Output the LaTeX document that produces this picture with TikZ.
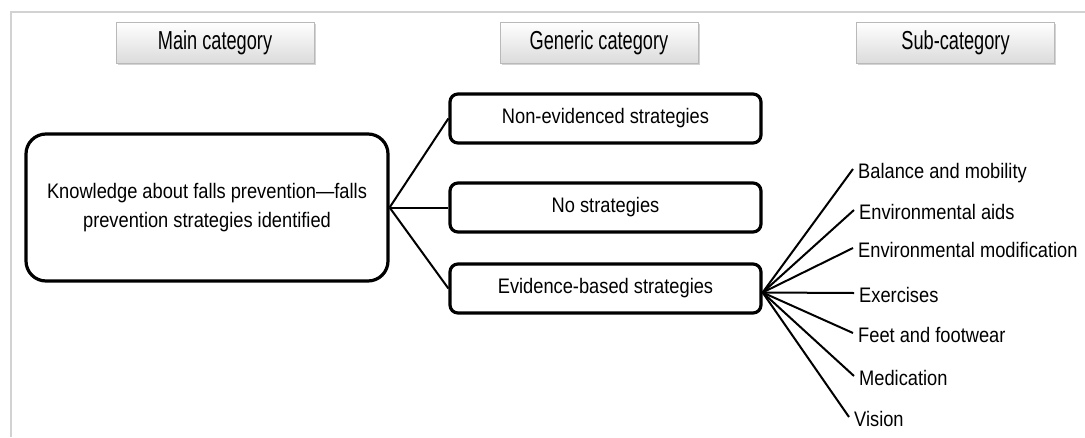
\documentclass[tikz,border=0pt]{standalone}
\usepackage{fontspec}
\setmainfont{Liberation Sans}[FakeStretch=0.87]
\newfontfamily\hdrfont{Liberation Sans}[FakeStretch=0.70]
\usetikzlibrary{shadows}
\tikzset{
  hdrbox/.style={draw=gray!55, line width=0.6pt, top color=white, bottom color=gray!28,
    minimum width=198pt, minimum height=41pt, inner sep=0pt,
    drop shadow={shadow xshift=1.5pt, shadow yshift=-2pt, opacity=0.35, fill=gray},
    font=\hdrfont\fontsize{26}{30}\selectfont},
  catbox/.style={draw=black, line width=3.2pt, rounded corners=8pt,
    minimum width=311pt, minimum height=49pt, inner sep=0pt,
    font=\fontsize{21}{29}\selectfont},
  mainbox/.style={draw=black, line width=3.2pt, rounded corners=20pt,
    minimum width=362pt, minimum height=147pt, align=center, inner sep=0pt,
    font=\fontsize{21}{29}\selectfont},
  sublbl/.style={anchor=base west, inner sep=0pt, font=\fontsize{21}{29}\selectfont},
  conn/.style={draw=black, line width=2pt}
}
\begin{document}
\begin{tikzpicture}[x=1pt,y=-1pt]
\useasboundingbox (0,0) rectangle (1085,437);
\draw[gray!35, line width=1.8pt] (11,437) -- (11,12) -- (1085,12);

\node[hdrbox] (hmain) at (215,42.5) {Main category};
\node[hdrbox] (hgen) at (599,42.5) {Generic category};
\node[hdrbox] (hsub) at (955.5,42.5) {Sub-category};

\node[mainbox] (main) at (207,207.5) {Knowledge about falls prevention---falls\\prevention strategies identified};

\node[catbox] (nonev) at (605.5,118.5) {Non-evidenced strategies};
\node[catbox] (nostr) at (605.5,207.5) {No strategies};
\node[catbox] (evid) at (605.5,288.5) {Evidence-based strategies};

\draw[conn] (main.east) -- (nonev.west);
\draw[conn] (main.east) -- (nostr.west);
\draw[conn] (main.east) -- (evid.west);

\node[sublbl] (s1) at (858,178) {Balance and mobility};
\node[sublbl] (s2) at (859,219) {Environmental aids};
\node[sublbl] (s3) at (858,257) {Environmental modification};
\node[sublbl] (s4) at (859,302) {Exercises};
\node[sublbl] (s5) at (858,342) {Feet and footwear};
\node[sublbl] (s6) at (859,385) {Medication};
\node[sublbl] (s7) at (854,426) {Vision};

\coordinate (ef) at ([yshift=-4pt]evid.east);
\foreach \s in {s1,s2,s3,s4,s5,s6,s7}{
  \draw[conn] (ef) -- ([shift={(-5,-9)}]\s.base west);
}
\end{tikzpicture}
\end{document}
